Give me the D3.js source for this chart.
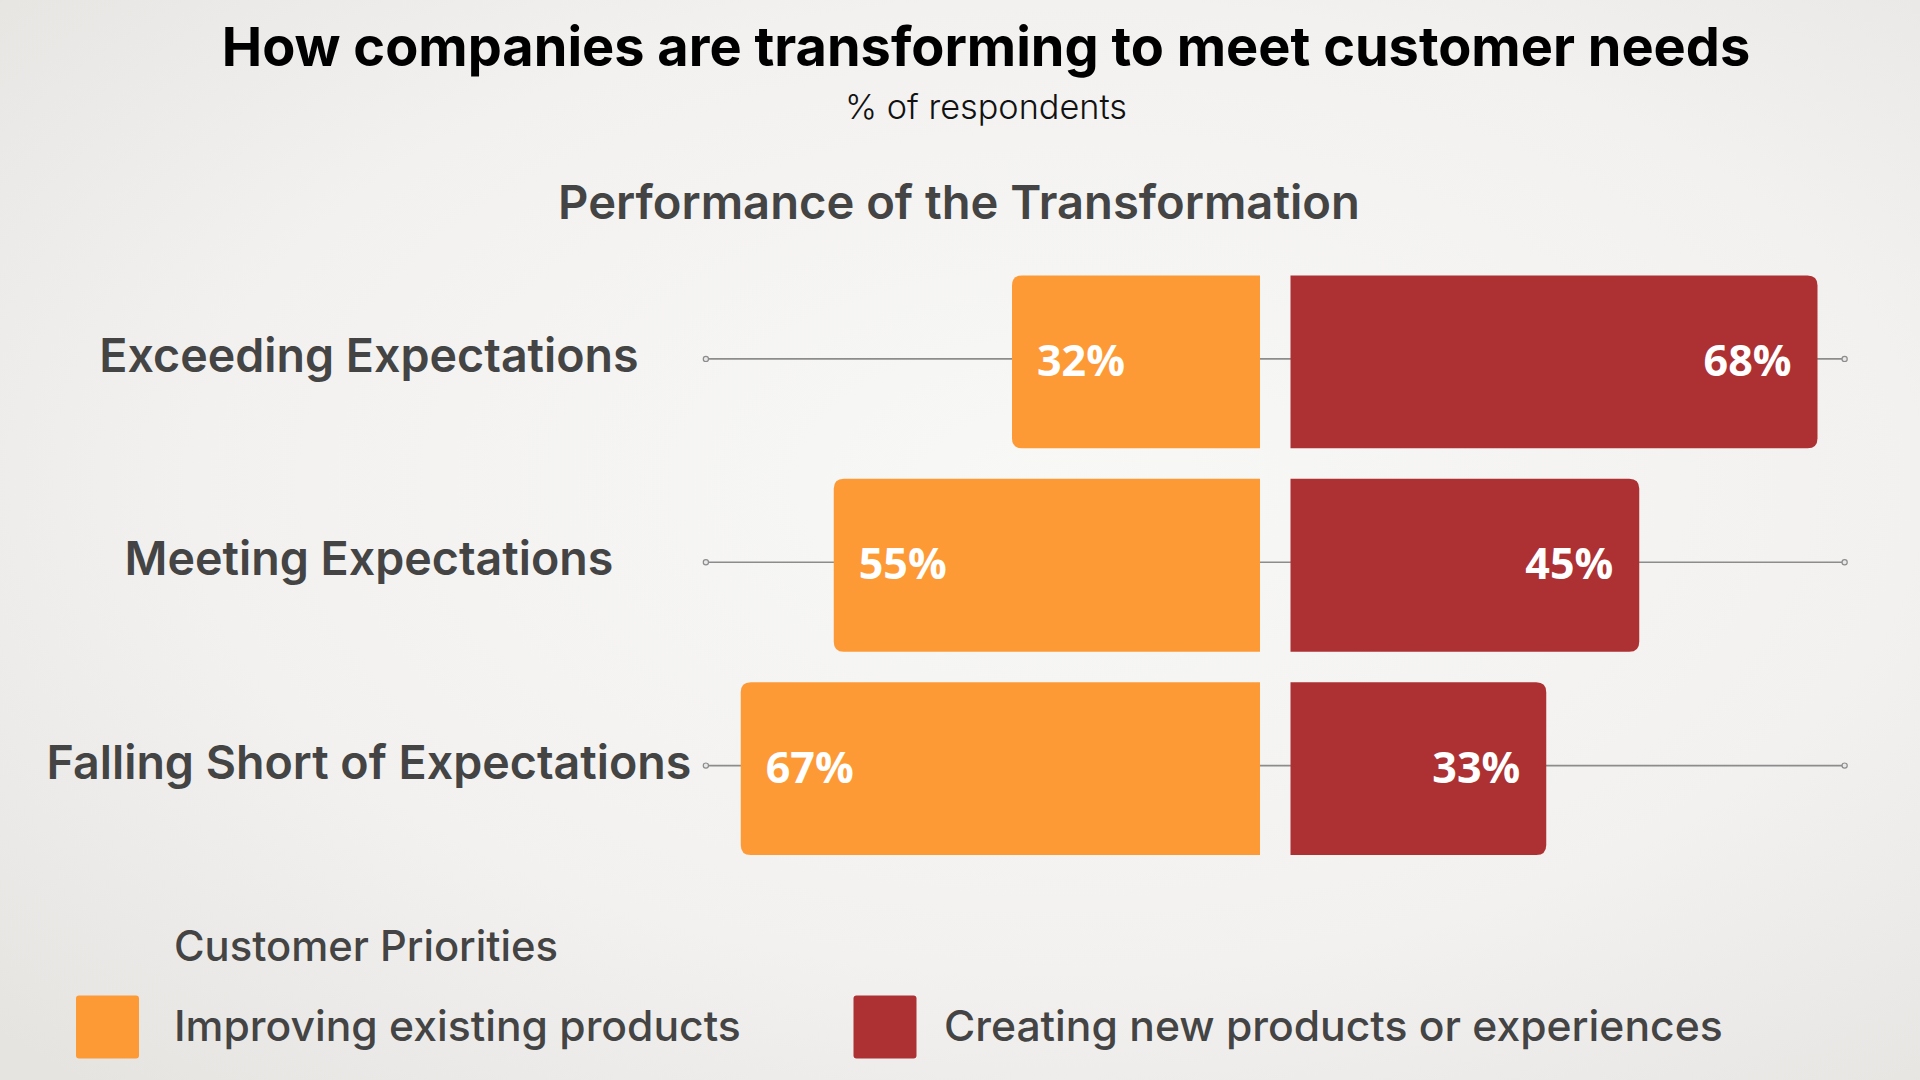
<!DOCTYPE html>
<html>
<head>
<meta charset="utf-8">
<script src="https://cdn.jsdelivr.net/npm/d3@7"></script>
<style>
  html, body { margin: 0; padding: 0; background: #f2f1f0; }
  svg { display: block; }
</style>
</head>
<body>
<svg id="chart" width="1920" height="1080"></svg>
<script>
// ---- data ----
const categories = ["Exceeding Expectations", "Meeting Expectations", "Falling Short of Expectations"];
const improvingValues = [32, 55, 67];
const creatingValues = [68, 45, 33];
const seriesNames = ["Improving existing products", "Creating new products or experiences"];
const seriesColors = ["#FE9A36", "#AD3133"];
const titleText = "How companies are transforming to meet customer needs";
const subtitleText = "% of respondents";
const sectionText = "Performance of the Transformation";
const legendTitle = "Customer Priorities";

// ---- layout ----
const W = 1920, H = 1080;
const svg = d3.select("#chart");
const sansFont = "Inter, 'Open Sans', 'DejaVu Sans', sans-serif";
const valueFont = "'Open Sans', 'Noto Sans', sans-serif";

// background
const defs = svg.append("defs");
const grad = defs.append("radialGradient").attr("id", "bg")
  .attr("cx", "55%").attr("cy", "45%").attr("r", "75%");
grad.append("stop").attr("offset", "0%").attr("stop-color", "#f8f8f7");
grad.append("stop").attr("offset", "60%").attr("stop-color", "#f2f1f0");
grad.append("stop").attr("offset", "100%").attr("stop-color", "#e6e4e1");
svg.append("rect").attr("width", W).attr("height", H).attr("fill", "url(#bg)");

function fit(sel, targetW) {
  const w = sel.node().getComputedTextLength();
  const fs = parseFloat(sel.attr("font-size"));
  const nfs = fs * targetW / w;
  sel.attr("font-size", nfs);
  return nfs;
}

// titles
const title = svg.append("text").attr("x", 986).attr("y", 66)
  .attr("text-anchor", "middle").attr("font-family", sansFont)
  .attr("font-weight", 700).attr("font-size", 46).attr("fill", "#000").text(titleText);
fit(title, 1529);

const sub = svg.append("text").attr("x", 986).attr("y", 119)
  .attr("text-anchor", "middle").attr("font-family", sansFont)
  .attr("font-weight", 300).attr("font-size", 32).attr("fill", "#111").text(subtitleText);
fit(sub, 282);

const sect = svg.append("text").attr("x", 959).attr("y", 219)
  .attr("text-anchor", "middle").attr("font-family", sansFont)
  .attr("font-weight", 600).attr("font-size", 40).attr("fill", "#444").text(sectionText);
fit(sect, 802);

// scales
const centerLeft = 1260, centerRight = 1290.5;
const x = d3.scaleLinear().domain([0, 100]).range([0, 775]);
const y = d3.scaleBand().domain(categories).range([275.5, 855]).paddingInner(0.15).paddingOuter(0);
const lineExtent = 71.5; // % reach of the guide lines on each side
const radius = 10;

const rows = categories.map((c, i) => ({ cat: c, imp: improvingValues[i], cre: creatingValues[i] }));

// guide lines
const g = svg.append("g");
rows.forEach(d => {
  const cy = y(d.cat) + y.bandwidth() / 2 - 3;
  const x0 = centerLeft - x(lineExtent), x1 = centerRight + x(lineExtent);
  g.append("line").attr("x1", x0).attr("x2", x1).attr("y1", cy).attr("y2", cy)
    .attr("stroke", "#8c8c8c").attr("stroke-width", 1.6);
  [x0, x1].forEach(xx => g.append("circle").attr("cx", xx).attr("cy", cy).attr("r", 2.6)
    .attr("fill", "#e8e8e8").attr("stroke", "#8c8c8c").attr("stroke-width", 1.2));
});

// bar path helpers: rounded outer corners only
function leftBar(x0, x1, y0, h, r) {
  return `M${x1},${y0} L${x0 + r},${y0} Q${x0},${y0} ${x0},${y0 + r} L${x0},${y0 + h - r} Q${x0},${y0 + h} ${x0 + r},${y0 + h} L${x1},${y0 + h} Z`;
}
function rightBar(x0, x1, y0, h, r) {
  return `M${x0},${y0} L${x1 - r},${y0} Q${x1},${y0} ${x1},${y0 + r} L${x1},${y0 + h - r} Q${x1},${y0 + h} ${x1 - r},${y0 + h} L${x0},${y0 + h} Z`;
}

const bars = svg.append("g");
bars.selectAll("path.imp").data(rows).join("path").attr("class", "imp")
  .attr("d", d => leftBar(centerLeft - x(d.imp), centerLeft, y(d.cat), y.bandwidth(), radius))
  .attr("fill", seriesColors[0]);
bars.selectAll("path.cre").data(rows).join("path").attr("class", "cre")
  .attr("d", d => rightBar(centerRight, centerRight + x(d.cre), y(d.cat), y.bandwidth(), radius))
  .attr("fill", seriesColors[1]);

// value labels
bars.selectAll("text.impv").data(rows).join("text").attr("class", "impv")
  .attr("x", d => centerLeft - x(d.imp) + 25)
  .attr("y", d => y(d.cat) + y.bandwidth() / 2 + 14)
  .attr("font-family", valueFont).attr("font-weight", 700).attr("font-size", 43)
  .attr("fill", "#fff").text(d => d.imp + "%");
bars.selectAll("text.crev").data(rows).join("text").attr("class", "crev")
  .attr("x", d => centerRight + x(d.cre) - 26)
  .attr("y", d => y(d.cat) + y.bandwidth() / 2 + 14)
  .attr("text-anchor", "end")
  .attr("font-family", valueFont).attr("font-weight", 700).attr("font-size", 43)
  .attr("fill", "#fff").text(d => d.cre + "%");

// category labels
const catLabels = svg.append("g").selectAll("text").data(rows).join("text")
  .attr("x", 369)
  .attr("y", d => y(d.cat) + y.bandwidth() / 2 + 10)
  .attr("text-anchor", "middle").attr("font-family", sansFont)
  .attr("font-weight", 600).attr("font-size", 42).attr("fill", "#444")
  .text(d => d.cat);
const catFs = fit(d3.select(catLabels.nodes()[2]), 645);
catLabels.attr("font-size", catFs);

// legend
const lt = svg.append("text").attr("x", 174).attr("y", 961)
  .attr("font-family", sansFont).attr("font-weight", 500).attr("font-size", 40)
  .attr("fill", "#444").text(legendTitle);
fit(lt, 384);

const swatchX = [76, 853.5];
const labelX = [174, 944];
const leg = svg.append("g").selectAll("g").data(seriesNames).join("g");
leg.append("rect").attr("x", (d, i) => swatchX[i]).attr("y", 995.5).attr("width", 63).attr("height", 63)
  .attr("rx", 3).attr("fill", (d, i) => seriesColors[i]);
const legTexts = leg.append("text").attr("x", (d, i) => labelX[i]).attr("y", 1041)
  .attr("font-family", sansFont).attr("font-weight", 500).attr("font-size", 42)
  .attr("fill", "#444").text(d => d);
const legFs = fit(d3.select(legTexts.nodes()[0]), 567);
legTexts.attr("font-size", legFs);
</script>
</body>
</html>
